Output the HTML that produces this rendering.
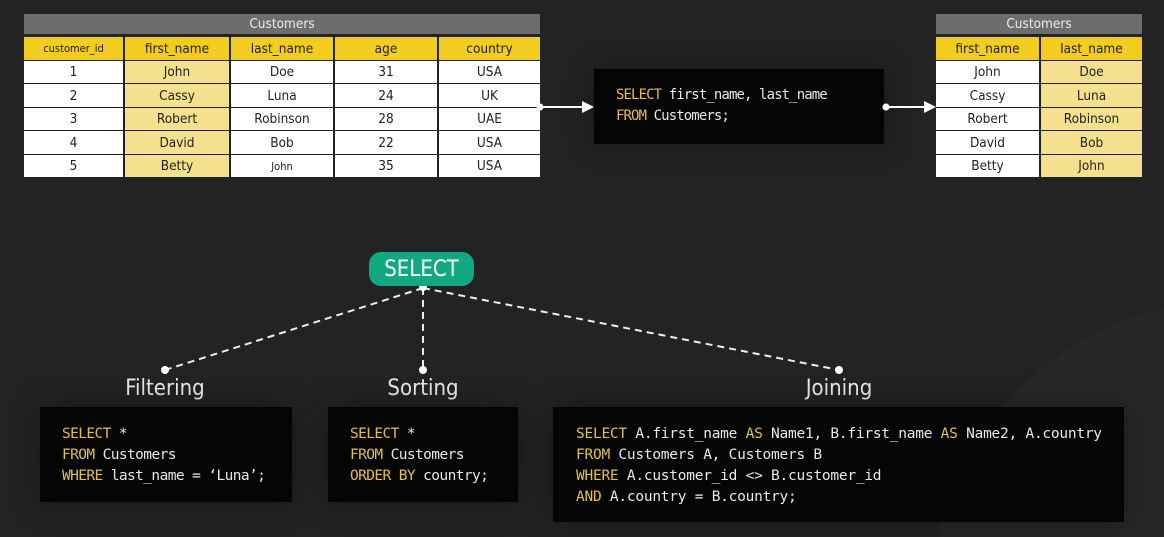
<!DOCTYPE html>
<html><head><meta charset="utf-8"><style>
*{margin:0;padding:0;box-sizing:border-box}
html,body{width:1164px;height:537px;overflow:hidden;background:#232323}
#wrap{width:1164px;height:537px;position:relative;overflow:hidden;background:radial-gradient(circle 300px at 1230px 600px,#272727 99%,#232323 100%);font-family:"DejaVu Sans Condensed","Liberation Sans",sans-serif}
.cell{position:absolute;display:flex;align-items:center;justify-content:center;font-size:13.5px;color:#222}
.hd{background:#f2cc1f}
.w{background:#fff}
.y{background:#f5e08e}
.g{background:#6d6d6d;color:#eee}
.code{position:absolute;background:#050505;font-family:"DejaVu Sans Mono","Liberation Mono",monospace;color:#e8e8e8;white-space:pre;box-shadow:0 0 30px rgba(0,0,0,0.35)}
.k{color:#e3c04b}
.lbl{position:absolute;color:#eaeaea;font-size:22px;transform:translateX(-50%)}
</style></head><body><div id="wrap">
<div id="L"></div>
<div id="R"></div>
<div class="code" style="left:594px;top:69px;width:290px;height:75px;padding:16px 0 0 22px;font-size:14px;line-height:21px;letter-spacing:-0.9px"><span class="k">SELECT</span> first_name, last_name
<span class="k">FROM</span> Customers;</div>
<svg width="1164" height="537" style="position:absolute;left:0;top:0">
<line x1="540" y1="107" x2="584" y2="107" stroke="#fff" stroke-width="2"/>
<circle cx="540" cy="107" r="3.5" fill="#fff"/>
<polygon points="582,101 594,107 582,113" fill="#fff"/>
<line x1="886" y1="107" x2="926" y2="107" stroke="#fff" stroke-width="2"/>
<circle cx="886" cy="107" r="3.5" fill="#fff"/>
<polygon points="924,101 936,107 924,113" fill="#fff"/>
<g stroke="#eee" stroke-width="2" stroke-dasharray="7,5" fill="none">
<line x1="423" y1="288" x2="165" y2="370"/>
<line x1="423" y1="288" x2="423" y2="370"/>
<line x1="423" y1="288" x2="839" y2="370"/>
</g>
<g fill="#fff"><circle cx="423" cy="287" r="4"/><circle cx="165" cy="370" r="4"/><circle cx="423" cy="370" r="4"/><circle cx="839" cy="370" r="4"/></g>
</svg>
<div style="position:absolute;left:369px;top:252px;width:105px;height:34px;border-radius:12px;background:#12a883;color:#fff;font-size:22px;display:flex;align-items:center;justify-content:center">SELECT</div>
<div class="lbl" style="left:165px;top:376px">Filtering</div>
<div class="lbl" style="left:423px;top:376px">Sorting</div>
<div class="lbl" style="left:839px;top:376px">Joining</div>
<div class="code" style="left:40px;top:407px;width:252px;height:95px;padding:17px 0 0 22px;font-size:14.5px;line-height:21px;letter-spacing:-0.6px"><span class="k">SELECT</span> *
<span class="k">FROM</span> Customers
<span class="k">WHERE</span> last_name = ‘Luna’;</div>
<div class="code" style="left:328px;top:407px;width:190px;height:95px;padding:17px 0 0 22px;font-size:14.5px;line-height:21px;letter-spacing:-0.6px"><span class="k">SELECT</span> *
<span class="k">FROM</span> Customers
<span class="k">ORDER BY</span> country;</div>
<div class="code" style="left:553px;top:407px;width:571px;height:115px;padding:17px 0 0 23px;font-size:14.5px;line-height:21px;letter-spacing:-0.25px"><span class="k">SELECT</span> A.first_name <span class="k">AS</span> Name1, B.first_name <span class="k">AS</span> Name2, A.country
<span class="k">FROM</span> Customers A, Customers B
<span class="k">WHERE</span> A.customer_id &lt;&gt; B.customer_id
<span class="k">AND</span> A.country = B.country;</div>
</div>
<script>
function table(id,x0,cols,hdr,rows,hi,smallCol){
 var h='';var W=cols[cols.length-1][1]-x0;
 h+='<div class="cell g" style="left:'+x0+'px;top:14px;width:'+W+'px;height:20px">Customers</div>';
 var ys=[[37,60],[61,83],[84,107],[108,130],[131,154],[155,177]];
 for(var c=0;c<cols.length;c++){
  var l=cols[c][0],w=cols[c][1]-cols[c][0];
  h+='<div class="cell hd" style="left:'+l+'px;top:37px;width:'+w+'px;height:23px;'+(c===smallCol?'font-size:11px':'')+'">'+hdr[c]+'</div>';
  for(var r=0;r<rows.length;r++){
   var y=ys[r+1];var txt=rows[r][c];
   var fs=(txt==='John'&&c===2&&cols.length>2)?'font-size:11px':'';
   h+='<div class="cell '+(c===hi?'y':'w')+'" style="left:'+l+'px;top:'+y[0]+'px;width:'+w+'px;height:'+(y[1]-y[0])+'px;'+fs+'">'+txt+'</div>';
  }
 }
 document.getElementById(id).innerHTML=h;
}
table('L',24,[[24,123],[125,229],[231,333],[335,437],[439,540]],['customer_id','first_name','last_name','age','country'],
[['1','John','Doe','31','USA'],['2','Cassy','Luna','24','UK'],['3','Robert','Robinson','28','UAE'],['4','David','Bob','22','USA'],['5','Betty','John','35','USA']],1,0);
table('R',936,[[936,1039],[1041,1142]],['first_name','last_name'],
[['John','Doe'],['Cassy','Luna'],['Robert','Robinson'],['David','Bob'],['Betty','John']],1,-1);
</script>
</body></html>
